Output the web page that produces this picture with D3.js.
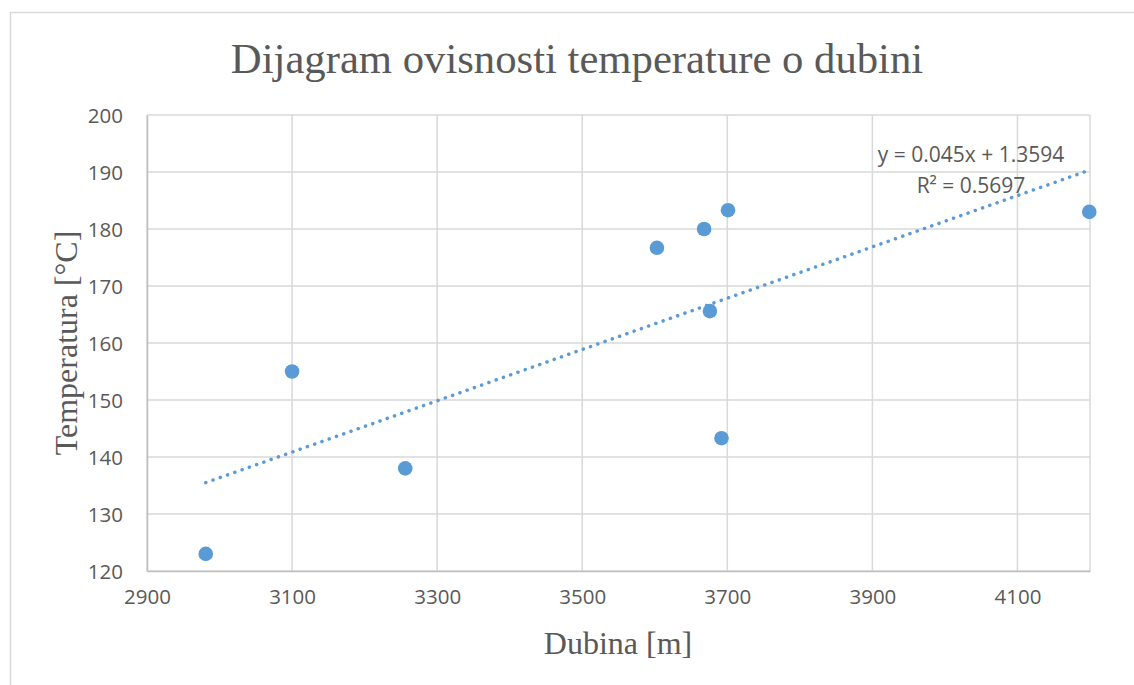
<!DOCTYPE html>
<html>
<head>
<meta charset="utf-8">
<script src="https://cdn.jsdelivr.net/npm/d3@7"></script>
<style>
  body { margin: 0; background: #fff; }
  svg { display: block; }
</style>
</head>
<body>
<script>
'use strict';

// depth [m] and temperature [°C]
const depth = [2981, 3100, 3256, 3603, 3668, 3701, 3676, 3692, 4199];
const temperature = [123, 155, 138, 176.7, 180, 183.3, 165.6, 143.3, 183];

// trendline as printed on the chart
const slope = 0.045;
const intercept = 1.3594;
const rSquared = "0.5697";

const xTicks = [2900, 3100, 3300, 3500, 3700, 3900, 4100];
const yTicks = [120, 130, 140, 150, 160, 170, 180, 190, 200];

(function() {
  const width = 1134, height = 685;
  const left = 147, right = 1090, top = 115, bottom = 571;

  let svg = d3.select('body')
    .append('svg')
    .attr('width', width)
    .attr('height', height);

  // outer chart border
  svg.append('rect')
    .attr('x', 10.5)
    .attr('y', 12.5)
    .attr('width', 1300)
    .attr('height', 800)
    .attr('fill', '#fff')
    .attr('stroke', '#d9d9d9')
    .attr('stroke-width', 1.5);

  let xScale = d3.scaleLinear().domain([2900, 4200]).range([left, right]);
  let yScale = d3.scaleLinear().domain([120, 200]).range([bottom, top]);

  // gridlines
  let grid = svg.append('g');
  grid.selectAll('.vgrid')
    .data(xTicks.concat([4200]))
    .enter()
    .append('line')
    .attr('x1', (d) => xScale(d))
    .attr('x2', (d) => xScale(d))
    .attr('y1', top)
    .attr('y2', bottom)
    .attr('stroke', '#d9d9d9')
    .attr('stroke-width', 1.5);
  grid.selectAll('.hgrid')
    .data(yTicks)
    .enter()
    .append('line')
    .attr('x1', left)
    .attr('x2', right)
    .attr('y1', (d) => yScale(d))
    .attr('y2', (d) => yScale(d))
    .attr('stroke', '#d9d9d9')
    .attr('stroke-width', 1.5);

  // axes
  let xAxis = d3.axisBottom(xScale).tickValues(xTicks).tickSize(0).tickPadding(18).tickFormat(d3.format('d'));
  let gx = svg.append('g')
    .attr('transform', 'translate(0,' + bottom + ')')
    .call(xAxis);
  let yAxis = d3.axisLeft(yScale).tickValues(yTicks).tickSize(0).tickPadding(24);
  let gy = svg.append('g')
    .attr('transform', 'translate(' + left + ',0)')
    .call(yAxis);

  [gx, gy].forEach((g) => {
    g.select('.domain').attr('stroke', '#bfbfbf').attr('stroke-width', 1.5);
    g.selectAll('text')
      .attr('fill', '#595959')
      .style('font-family', '"Open Sans", sans-serif')
      .style('font-size', '20.5px');
  });
  gy.selectAll('text').attr('dy', '0.36em');

  // trendline
  let xMin = d3.min(depth), xMax = d3.max(depth);
  svg.append('line')
    .attr('x1', xScale(xMin))
    .attr('y1', yScale(slope * xMin + intercept))
    .attr('x2', xScale(xMax))
    .attr('y2', yScale(slope * xMax + intercept))
    .attr('stroke', '#5b9bd5')
    .attr('stroke-width', 3.5)
    .attr('stroke-linecap', 'round')
    .attr('stroke-dasharray', '0.1 7.6');

  // points
  svg.selectAll('.dot')
    .data(depth.map((d, i) => ({ x: d, y: temperature[i] })))
    .enter()
    .append('circle')
    .attr('cx', (d) => xScale(d.x))
    .attr('cy', (d) => yScale(d.y))
    .attr('r', 7.3)
    .attr('fill', '#5b9bd5');

  // trendline label
  let eq = svg.append('text')
    .attr('x', 971)
    .attr('y', 162)
    .attr('text-anchor', 'middle')
    .attr('fill', '#595959')
    .style('font-family', '"Open Sans", sans-serif')
    .style('font-size', '21px');
  eq.append('tspan').text('y = ' + slope + 'x + ' + intercept);
  eq.append('tspan').attr('x', 971).attr('dy', 31).text('R² = ' + rSquared);

  // title and axis labels
  svg.append('text')
    .attr('x', 577)
    .attr('y', 73)
    .attr('text-anchor', 'middle')
    .attr('fill', '#595959')
    .style('font-family', '"Liberation Serif", "Times New Roman", serif')
    .style('font-size', '42.7px')
    .text('Dijagram ovisnosti temperature o dubini');

  svg.append('text')
    .attr('x', 618)
    .attr('y', 654)
    .attr('text-anchor', 'middle')
    .attr('fill', '#595959')
    .style('font-family', '"Liberation Serif", "Times New Roman", serif')
    .style('font-size', '32px')
    .text('Dubina [m]');

  svg.append('text')
    .attr('transform', 'translate(77,343)rotate(-90)')
    .attr('text-anchor', 'middle')
    .attr('fill', '#595959')
    .style('font-family', '"Liberation Serif", "Times New Roman", serif')
    .style('font-size', '32px')
    .text('Temperatura [°C]');
})();
</script>
</body>
</html>
